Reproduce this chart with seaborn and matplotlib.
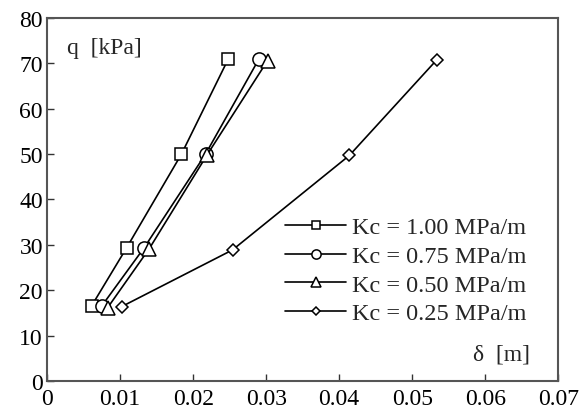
import numpy as np
import pandas as pd
import matplotlib
matplotlib.use('Agg')
import matplotlib.pyplot as plt
import seaborn as sns

sns.set_style('ticks')
plt.rcParams['font.family'] = ['Liberation Serif', 'DejaVu Serif']

# settlement delta [m] and load q [kPa] for each Kc
labels = ['Kc = 1.00 MPa/m', 'Kc = 0.75 MPa/m', 'Kc = 0.50 MPa/m', 'Kc = 0.25 MPa/m']
delta_100 = [0.0061, 0.0109, 0.0184, 0.0248]
q_100 = [16.6, 29.4, 50.0, 70.9]
delta_075 = [0.0075, 0.0133, 0.0217, 0.0290]
q_075 = [16.6, 29.4, 50.0, 70.9]
delta_050 = [0.0083, 0.0140, 0.0219, 0.0302]
q_050 = [16.2, 29.2, 49.8, 70.6]
delta_025 = [0.0102, 0.0254, 0.0414, 0.0534]
q_025 = [16.4, 28.9, 49.7, 70.8]

x_ticks = [0, 0.01, 0.02, 0.03, 0.04, 0.05, 0.06, 0.07]
y_ticks = [0, 10, 20, 30, 40, 50, 60, 70, 80]

series = [(delta_100, q_100, 's', 8.5),
          (delta_075, q_075, 'o', 9.5),
          (delta_050, q_050, '^', 9.5),
          (delta_025, q_025, 'D', 6.5)]

fig, ax = plt.subplots(figsize=(5.82, 4.10), dpi=100)
fig.subplots_adjust(left=0.081, right=0.959, bottom=0.068, top=0.954)

for (dx, qy, mk, ms), lab in zip(series, labels):
    sns.lineplot(x=dx, y=qy, ax=ax, sort=False, color='black', lw=1.2,
                 marker=mk, markersize=ms, markerfacecolor='white',
                 markeredgecolor='black', markeredgewidth=1.1, label=lab)

ax.set_xlim(0, 0.07)
ax.set_ylim(0, 80)
ax.set_xticks(x_ticks)
ax.set_xticklabels(['0' if t == 0 else f'{t:.2f}' for t in x_ticks])
ax.set_yticks(y_ticks)
ax.tick_params(direction='in', length=5, width=1, labelsize=17, pad=3,
               colors='#333333', labelcolor='black')
ax.tick_params(axis='x', pad=5)
ax.set_xlabel('')
ax.set_ylabel('')
for sp in ax.spines.values():
    sp.set_visible(True)
    sp.set_linewidth(1.5)
    sp.set_color('#555555')

ax.text(0.0027, 73.4, 'q  [kPa]', fontsize=17, ha='left', va='center')
ax.text(0.0662, 6.0, 'δ  [m]', fontsize=17, ha='right', va='center')

leg = ax.legend(loc='center left', bbox_to_anchor=((285 - 47) / 511, 0.305),
                frameon=False, fontsize=17.5, handlelength=2.5, handletextpad=0.25,
                labelspacing=0.27, markerscale=0.7, borderaxespad=0, borderpad=0)

plt.savefig('out.png', dpi=100)
